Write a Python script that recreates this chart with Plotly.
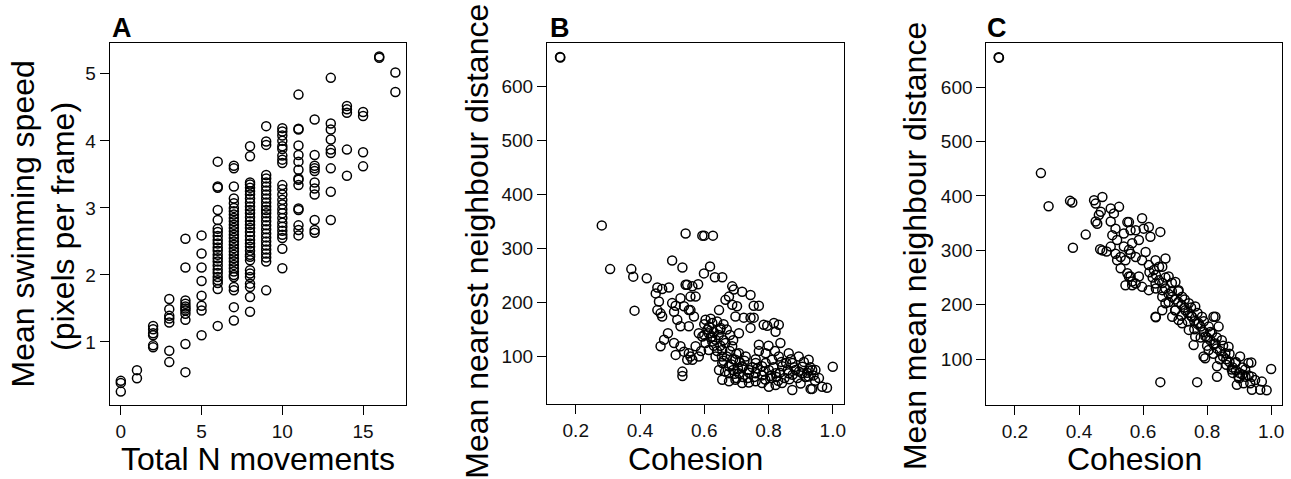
import plotly.graph_objects as go

# ---------------- Panel A data: speeds grouped by total N movements ----------------
a_speed_by_moves = {
    0: [0.42, 0.39, 0.26],
    1: [0.58, 0.46],
    2: [1.24, 1.19, 1.13, 1.10, 0.95, 0.92],
    3: [1.64, 1.49, 1.39, 1.35, 1.29, 0.87, 0.70],
    4: [2.54, 2.11, 1.62, 1.57, 1.53, 1.50, 1.47, 1.42, 1.33, 0.97, 0.55],
    5: [2.59, 2.32, 2.11, 1.91, 1.69, 1.54, 1.47, 1.10],
    6: [3.69, 3.32, 3.30, 2.97, 2.82, 2.69, 2.64, 2.58, 2.52, 2.47, 2.41, 2.36, 2.30,
        2.25, 2.20, 2.14, 2.08, 2.03, 1.97, 1.92, 1.88, 1.79, 1.24],
    7: [3.63, 3.59, 3.32, 3.14, 3.07, 3.00, 2.95, 2.90, 2.85, 2.80, 2.75, 2.70, 2.65,
        2.60, 2.55, 2.50, 2.45, 2.40, 2.35, 2.30, 2.25, 2.20, 2.15, 2.10, 2.05, 2.00,
        1.97, 1.82, 1.77, 1.52, 1.32],
    8: [3.92, 3.77, 3.38, 3.35, 3.30, 3.25, 3.20, 3.14, 3.08, 3.02, 2.97, 2.92, 2.86,
        2.80, 2.75, 2.70, 2.64, 2.58, 2.52, 2.47, 2.42, 2.36, 2.30, 2.27, 2.22, 2.07,
        2.02, 1.97, 1.87, 1.82, 1.67, 1.45],
    9: [4.22, 3.99, 3.94, 3.49, 3.44, 3.38, 3.32, 3.26, 3.20, 3.14, 3.08, 3.02, 2.97,
        2.92, 2.86, 2.80, 2.74, 2.68, 2.62, 2.56, 2.50, 2.44, 2.38, 2.32, 2.26, 2.20, 1.77],
    10: [4.19, 4.14, 4.08, 4.00, 3.92, 3.88, 3.78, 3.72, 3.67, 3.34, 3.28, 3.20, 3.12,
         3.05, 2.98, 2.92, 2.85, 2.78, 2.72, 2.66, 2.60, 2.55, 2.39, 2.10],
    11: [4.69, 4.18, 4.17, 3.93, 3.79, 3.69, 3.57, 3.44, 3.42, 3.34, 2.99, 2.97, 2.74, 2.67, 2.59],
    12: [4.32, 3.79, 3.63, 3.59, 3.55, 3.38, 3.29, 3.20, 2.82, 2.67, 2.63],
    13: [4.94, 4.26, 4.17, 4.02, 3.87, 3.82, 3.59, 3.24, 2.82],
    14: [4.52, 4.47, 4.42, 3.87, 3.48],
    15: [4.43, 4.37, 3.83, 3.62],
    16: [5.26, 5.24],
    17: [5.02, 4.73],
}
a_moves = [k for k, v in a_speed_by_moves.items() for _ in v]
a_speed = [s for v in a_speed_by_moves.values() for s in v]

# ---------------- Panel B data: (cohesion, mean nearest neighbour distance) ----------------
b_points = [
    (0.151, 655), (0.152, 654), (0.281, 343), (0.307, 262), (0.373, 262), (0.379, 248),
    (0.383, 185), (0.421, 245), (0.500, 278), (0.532, 265), (0.542, 328), (0.594, 324),
    (0.600, 324), (0.627, 324), (0.618, 267), (0.599, 254), (0.633, 247), (0.656, 247),
    (0.581, 234), (0.542, 233), (0.547, 233),
    (0.454, 228), (0.469, 225), (0.490, 228), (0.449, 217), (0.459, 202), (0.454, 186),
    (0.464, 180), (0.469, 174), (0.500, 199), (0.511, 194), (0.526, 208), (0.537, 193),
    (0.557, 211), (0.506, 183), (0.516, 168), (0.526, 156), (0.552, 156), (0.557, 186),
    (0.487, 143), (0.475, 131), (0.464, 119), (0.506, 125), (0.511, 103), (0.526, 119),
    (0.537, 109), (0.547, 94), (0.557, 100), (0.532, 72), (0.532, 64),
    (0.687, 230), (0.692, 224), (0.718, 220), (0.744, 214), (0.666, 205), (0.677, 211),
    (0.687, 196), (0.702, 193), (0.754, 194), (0.770, 194), (0.697, 174), (0.723, 172),
    (0.744, 172), (0.754, 172), (0.744, 153), (0.785, 159), (0.796, 157), (0.817, 162),
    (0.832, 159), (0.822, 146), (0.708, 143), (0.646, 186), (0.563, 230), (0.573, 211),
    (0.552, 186), (0.568, 174), (0.604, 168), (0.625, 162), (0.651, 153), (0.594, 137),
    (0.614, 143), (0.635, 131), (0.666, 125), (0.656, 112), (0.687, 119), (0.708, 106),
    (0.729, 100), (0.770, 122), (0.791, 106), (0.837, 125), (0.863, 106), (0.894, 100),
    (0.925, 94), (0.874, 88), (0.905, 81), (0.936, 75), (0.957, 60), (0.982, 42),
    (1.000, 81), (0.874, 38), (0.931, 40), (0.936, 40), (0.967, 44),
    (0.656, 57), (0.677, 54), (0.697, 57), (0.718, 51), (0.739, 52), (0.760, 54),
    (0.780, 51), (0.801, 44), (0.822, 47), (0.842, 51),
    (0.614, 112), (0.635, 100), (0.656, 88), (0.677, 82), (0.697, 94), (0.718, 82),
    (0.739, 75), (0.760, 88), (0.780, 82), (0.801, 75), (0.822, 69), (0.843, 82),
    (0.863, 69), (0.884, 75), (0.905, 69), (0.925, 63), (0.946, 75), (0.760, 69),
    (0.677, 69), (0.646, 75), (0.708, 69), (0.811, 94), (0.832, 100), (0.791, 88),
    (0.604, 125), (0.625, 137), (0.583, 143), (0.573, 119), (0.552, 106), (0.563, 94),
    (0.583, 100),
    (0.600, 160), (0.610, 150), (0.620, 170), (0.630, 145), (0.640, 165), (0.620, 135),
    (0.600, 140), (0.650, 150), (0.630, 120), (0.660, 130), (0.640, 110), (0.670, 100),
    (0.660, 92), (0.680, 110), (0.690, 95), (0.700, 105), (0.710, 90), (0.720, 80),
    (0.690, 75), (0.700, 60), (0.720, 62), (0.740, 70), (0.750, 80), (0.760, 95),
    (0.780, 65), (0.790, 57), (0.810, 60), (0.830, 55), (0.850, 60), (0.860, 75),
    (0.880, 80), (0.890, 60), (0.900, 50), (0.920, 70), (0.930, 80), (0.940, 65),
    (0.910, 90), (0.870, 95), (0.840, 90), (0.820, 110), (0.800, 120), (0.770, 110),
    (0.670, 150), (0.680, 140), (0.690, 130), (0.660, 160), (0.650, 120), (0.590, 110),
    (0.615, 155), (0.625, 128), (0.645, 140), (0.655, 100), (0.665, 72), (0.685, 85),
    (0.695, 68), (0.705, 78), (0.725, 92), (0.735, 60), (0.755, 62), (0.765, 78),
    (0.785, 72), (0.805, 64), (0.815, 80), (0.825, 62), (0.835, 70), (0.855, 88),
    (0.865, 58), (0.875, 66), (0.895, 72), (0.915, 62), (0.925, 74), (0.945, 55),
]
b_cohesion = [p[0] for p in b_points]
b_nnd = [p[1] for p in b_points]

# ---------------- Panel C data: (cohesion, mean mean neighbour distance) ----------------
c_points = [
    (0.149, 655), (0.150, 654), (0.281, 442), (0.305, 381), (0.372, 391), (0.379, 388),
    (0.421, 329), (0.381, 305), (0.447, 392), (0.473, 398), (0.452, 386), (0.468, 371),
    (0.462, 365), (0.452, 353), (0.457, 349), (0.499, 377), (0.525, 380), (0.509, 368),
    (0.499, 353), (0.514, 340), (0.466, 302), (0.473, 300), (0.486, 298), (0.504, 328),
    (0.519, 319), (0.540, 331), (0.551, 352), (0.561, 337), (0.499, 307), (0.514, 294),
    (0.530, 288), (0.545, 282), (0.561, 294), (0.540, 307), (0.519, 282), (0.530, 267),
    (0.551, 258), (0.545, 236), (0.561, 252), (0.566, 243),
    (0.597, 359), (0.654, 334), (0.556, 352), (0.577, 337), (0.602, 340), (0.623, 325),
    (0.587, 319), (0.566, 313), (0.618, 343), (0.670, 285), (0.556, 301), (0.577, 288),
    (0.597, 282), (0.618, 273), (0.639, 282), (0.660, 270), (0.608, 297), (0.634, 264),
    (0.556, 252), (0.577, 239), (0.597, 233), (0.618, 227), (0.587, 252), (0.566, 236),
    (0.639, 239), (0.660, 227), (0.680, 252), (0.701, 242), (0.691, 215), (0.711, 227),
    (0.670, 203), (0.639, 178), (0.660, 190), (0.691, 178), (0.722, 215), (0.743, 203),
    (0.732, 190), (0.753, 178), (0.763, 197), (0.774, 166), (0.743, 154), (0.722, 166),
    (0.711, 172), (0.701, 190), (0.784, 178), (0.805, 160), (0.795, 142), (0.763, 142),
    (0.815, 148), (0.826, 178), (0.836, 160), (0.846, 135), (0.826, 129), (0.805, 117),
    (0.758, 126), (0.789, 105), (0.794, 102), (0.820, 178), (0.831, 87), (0.857, 111),
    (0.867, 123), (0.888, 93), (0.903, 105), (0.877, 81), (0.898, 68), (0.919, 81),
    (0.940, 68), (0.929, 93), (0.914, 56), (0.893, 53), (0.950, 62), (0.935, 56),
    (0.654, 58), (0.769, 58), (0.831, 68), (1.000, 82), (0.938, 94), (0.940, 44),
    (0.966, 44), (0.986, 43), (0.971, 59), (0.640, 177),
    (0.620, 260), (0.630, 250), (0.640, 255), (0.650, 245), (0.660, 240), (0.670, 230),
    (0.680, 220), (0.690, 225), (0.700, 210), (0.710, 205), (0.720, 200), (0.730, 195),
    (0.740, 185), (0.750, 180), (0.760, 170), (0.770, 165), (0.780, 160), (0.790, 150),
    (0.800, 140), (0.810, 135), (0.820, 128), (0.830, 120), (0.840, 115), (0.850, 105),
    (0.860, 100), (0.870, 95), (0.880, 85), (0.890, 80), (0.900, 75), (0.910, 72),
    (0.920, 68), (0.930, 70), (0.650, 270), (0.670, 250), (0.690, 240), (0.710, 225),
    (0.730, 210), (0.750, 195), (0.770, 185), (0.790, 170), (0.810, 150), (0.830, 140),
    (0.850, 125), (0.870, 110), (0.890, 95), (0.910, 85), (0.640, 230), (0.660, 215),
    (0.680, 205), (0.700, 190), (0.720, 180), (0.740, 170), (0.760, 155), (0.780, 140),
    (0.800, 125), (0.820, 110), (0.840, 100), (0.860, 90), (0.880, 75), (0.900, 65),
]
c_cohesion = [p[0] for p in c_points]
c_mnd = [p[1] for p in c_points]

# ---------------- Tick values ----------------
a_xticks = [0, 5, 10, 15]
a_yticks = [1, 2, 3, 4, 5]
bc_xticks = [0.2, 0.4, 0.6, 0.8, 1.0]
bc_xticklabels = ["0.2", "0.4", "0.6", "0.8", "1.0"]
bc_yticks = [100, 200, 300, 400, 500, 600]

W, H = 1291, 479
FONT = "Liberation Sans, Arial, Helvetica, sans-serif"

marker = dict(symbol="circle-open", size=9, color="black", line=dict(width=1.5, color="black"))

fig = go.Figure()
fig.add_trace(go.Scatter(x=a_moves, y=a_speed, mode="markers", marker=marker,
                         xaxis="x", yaxis="y", showlegend=False))
fig.add_trace(go.Scatter(x=b_cohesion, y=b_nnd, mode="markers", marker=marker,
                         xaxis="x2", yaxis="y2", showlegend=False))
fig.add_trace(go.Scatter(x=c_cohesion, y=c_mnd, mode="markers", marker=marker,
                         xaxis="x3", yaxis="y3", showlegend=False))


def px_x(p):
    return p / W


def px_y(p):
    return 1 - p / H


axis_common = dict(showline=True, mirror=True, linecolor="black", linewidth=1.3,
                   ticks="outside", ticklen=9, tickwidth=1.3, tickcolor="black",
                   showgrid=False, zeroline=False,
                   tickfont=dict(family=FONT, size=19, color="#111"))

fig.update_layout(
    width=W, height=H,
    margin=dict(l=0, r=0, t=0, b=0),
    paper_bgcolor="white", plot_bgcolor="white",
    xaxis=dict(domain=[px_x(110), px_x(407)], range=[-0.68, 17.68],
               tickvals=a_xticks, anchor="y", **axis_common),
    yaxis=dict(domain=[px_y(405), px_y(43)], range=[0.06, 5.46],
               tickvals=a_yticks, anchor="x", **axis_common),
    xaxis2=dict(domain=[px_x(548), px_x(845)], range=[0.111, 1.034],
                tickvals=bc_xticks, ticktext=bc_xticklabels, anchor="y2", **axis_common),
    yaxis2=dict(domain=[px_y(404), px_y(43)], range=[12, 681],
                tickvals=bc_yticks, anchor="x2", **axis_common),
    xaxis3=dict(domain=[px_x(988), px_x(1284)], range=[0.111, 1.034],
                tickvals=bc_xticks, ticktext=bc_xticklabels, anchor="y3", **axis_common),
    yaxis3=dict(domain=[px_y(405), px_y(43)], range=[16, 681],
                tickvals=bc_yticks, anchor="x3", **axis_common),
)

title_font = dict(family=FONT, size=32, color="black")
letter_font = dict(family="Liberation Sans, Arial, sans-serif", size=27, color="black")

annotations = [
    # x-axis titles
    dict(text="Total N movements", x=px_x(258.5), y=px_y(459), font=title_font),
    dict(text="Cohesion", x=px_x(696.5), y=px_y(459), font=title_font),
    dict(text="Cohesion", x=px_x(1136), y=px_y(459), font=title_font),
    # y-axis titles
    dict(text="Mean swimming speed", x=px_x(23.5), y=px_y(224), textangle=-90, font=title_font),
    dict(text="(pixels per frame)", x=px_x(63), y=px_y(226), textangle=-90, font=title_font),
    dict(text="Mean nearest neighbour distance", x=px_x(477.5), y=px_y(241), textangle=-90, font=title_font),
    dict(text="Mean mean neighbour distance", x=px_x(916.5), y=px_y(246), textangle=-90, font=title_font),
    # panel letters
    dict(text="<b>A</b>", x=px_x(110), y=px_y(28), xanchor="left", font=letter_font),
    dict(text="<b>B</b>", x=px_x(549), y=px_y(28), xanchor="left", font=letter_font),
    dict(text="<b>C</b>", x=px_x(987), y=px_y(28), xanchor="left", font=letter_font),
]
for a in annotations:
    a.setdefault("xanchor", "center")
    a.setdefault("yanchor", "middle")
    a.update(xref="paper", yref="paper", showarrow=False)
fig.update_layout(annotations=annotations)

fig.write_html(
    "out.html",
    config={"displayModeBar": False},
    post_script="document.body.style.margin='0px';document.body.style.overflow='hidden';",
)
